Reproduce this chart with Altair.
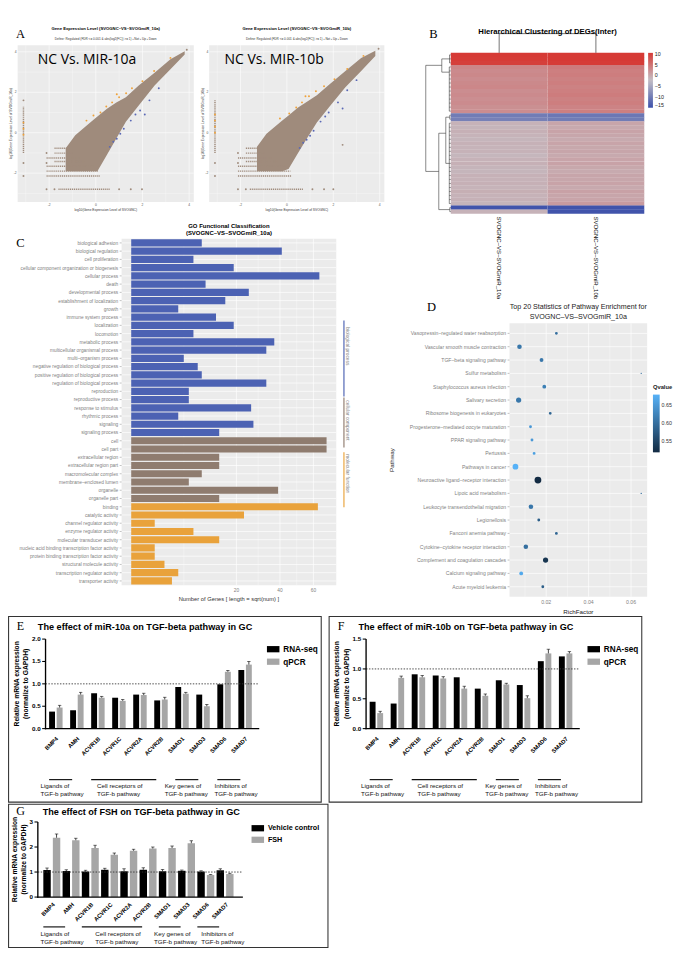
import altair as alt
import pandas as pd

SANS = "Liberation Sans"
SERIF = "Liberation Serif"
GG_BG = "#EBEBEB"
GG_TXT = "#7F7F7F"
ONE = pd.DataFrame({"k": [0]})

# ======================= DATA =======================
# ---- A: scatter panels ----
a1_title = "Gene Expression Level (SVOGNC\u2013VS\u2013SVOGmiR_10a)"
a2_title = "Gene Expression Level (SVOGNC\u2013VS\u2013SVOGmiR_10b)"
a_sub = "Define: Regulated (FDR <= 0.001 & abs(log2(FC)) >= 1)   \u25aa Not  \u25aa Up  \u25aa Down"
a_xlab = "log10(Gene Expression Level of SVOGNC)"
a1_ylab = "log10(Gene Expression Level of SVOGmiR_10a)"
a2_ylab = "log10(Gene Expression Level of SVOGmiR_10b)"
a1_big = "NC Vs. MIR-10a"
a2_big = "NC Vs. MIR-10b"
a_grid_major = [-2, 0, 2, 4]
a_grid_minor = [-3, -1, 1, 3]
a_tick_labels = ["-2", "0", "2", "4"]

a_band_x = [-1.29, -0.88, -0.20, 0.07, 0.48, 0.88, 1.29, 1.84, 2.52, 3.20, 3.81]
a1_band_lo = [-1.90, -1.90, -1.90, -1.90, -1.09, -0.28, 0.54, 1.35, 2.33, 3.14, 3.87]
a1_band_hi = [-0.77, -0.12, 0.54, 0.80, 1.19, 1.50, 1.75, 2.33, 2.97, 3.63, 4.03]
a2_band_lo = [-1.90, -1.90, -1.90, -1.80, -1.00, -0.25, 0.50, 1.30, 2.25, 3.05, 3.80]
a2_band_hi = [-0.70, -0.05, 0.60, 0.85, 1.25, 1.55, 1.85, 2.40, 3.05, 3.70, 4.05]

a1_seg_x0 = [-1.77, -1.77, -2.11, -1.77, -2.11, -2.11, -2.11, -1.60, -3.10]
a1_seg_x1 = [-1.25, -1.00, -0.70, -0.45, -0.10, 0.10, 0.20, 0.62, -3.10]
a1_seg_y0 = [-0.77, -1.01, -1.25, -1.42, -1.66, -1.90, -2.14, -2.80, -1.00]
a1_seg_y1 = [-0.77, -1.01, -1.25, -1.42, -1.66, -1.90, -2.14, -2.80, 1.30]
a2_seg_x0 = [-1.77, -1.77, -2.11, -1.77, -2.11, -2.11, -2.11, -1.60, -3.10]
a2_seg_x1 = [-1.20, -0.95, -0.65, -0.40, -0.05, 0.15, 0.20, 0.70, -3.10]
a2_seg_y0 = [-0.77, -1.01, -1.25, -1.42, -1.66, -1.90, -2.14, -2.80, -1.00]
a2_seg_y1 = [-0.77, -1.01, -1.25, -1.42, -1.66, -1.90, -2.14, -2.80, 1.60]

a1_not_x = [-2.11, -1.77, 1.00, 1.50, 1.98, -3.10, -3.10, -3.10, -2.11, -2.11, 3.90]
a1_not_y = [-2.80, -2.80, -2.80, -2.80, -2.80, 1.60, -1.50, -2.14, -1.00, -1.50, 4.10]
a1_up_x = [0.20, 0.45, 0.70, 1.00, 1.30, 1.55, 2.00, 2.50, -0.40, -0.10, 3.20, 0.90, -3.10, -3.10, -3.10]
a1_up_y = [1.00, 1.30, 1.50, 1.75, 1.95, 2.20, 2.55, 3.05, 0.60, 0.85, 3.70, 1.90, 0.20, 0.50, -0.10]
a1_dn_x = [0.60, 0.90, 1.20, 1.50, 1.90, 2.30, 2.70, 1.05, 1.70, 2.10, 0.75]
a1_dn_y = [-0.70, -0.30, 0.20, 0.60, 1.10, 1.60, 2.20, -0.05, 0.90, 0.90, -0.45]

a2_not_x = [-2.11, -1.77, 1.10, 1.60, 2.00, -3.10, -3.10, -2.11, -2.11, 2.40, 3.95]
a2_not_y = [-2.80, -2.80, -2.80, -2.80, -2.80, -1.50, -2.14, -1.00, -1.50, -0.60, 4.15]
a2_up_x = [0.10, 0.40, 0.65, 0.95, 1.25, 1.60, 2.05, 2.60, -0.30, 3.30, 0.80, -3.10, -3.10, -3.10, -3.10]
a2_up_y = [0.95, 1.25, 1.50, 1.80, 2.05, 2.30, 2.65, 3.15, 0.70, 3.80, 1.80, 0.30, 0.60, 0.90, 0.00]
a2_dn_x = [0.55, 0.85, 1.15, 1.45, 1.80, 2.20, 2.60, 1.00, 1.65, 2.40, 0.70, 3.00]
a2_dn_y = [-0.75, -0.35, 0.10, 0.55, 1.00, 1.50, 2.10, -0.15, 0.80, 1.20, -0.50, 2.60]

# ---- B: heatmap ----
b_title = "Hierarchical Clustering of DEGs(Inter)"
b_cols = ["SVOGNC\u2013VS\u2013SVOGmiR_10a", "SVOGNC\u2013VS\u2013SVOGmiR_10b"]
b_left = [10.5, 10.3, 10.0,
          3.2, 2.8, 3.0, 2.6, 2.9, 3.1, 2.5, 2.8, 2.4, 2.7, 2.3, 2.6,
          -10.0, -9.5,
          -1.0, -1.2, -0.8, -1.1, -1.3, -0.9, -1.1, -1.0, -1.4, -1.0,
          -0.8, -1.2, -1.3, -0.9, -1.0, -0.8, -1.1, -0.7, -1.0, -0.9, -1.2,
          -14.5, -1.0]
b_right = [10.5, 10.5, 10.3,
           4.3, 3.9, 4.1, 3.7, 4.0, 3.6, 3.9, 4.2, 3.7, 4.0, 3.5, 3.9,
           -10.5, -10.0,
           0.2, -0.1, 0.4, 0.1, -0.2, 0.3, 0.0, 0.2, -0.1, 0.3,
           0.5, 0.0, -0.2, 0.2, 0.1, 0.4, -0.1, 0.6, 0.2, 0.3, 1.2,
           -14.5, -14.5]
b_dend_h1 = [1.00, 1.00, 0.36, 0.36, 0.05, 0.36, 0.06, 1.00, 0.48, 0.48, 0.20, 0.20, 0.04, 0.20, 0.06, 0.48, 0.04]
b_dend_h2 = [1.00, 0.36, 0.36, 0.05, 0.05, 0.06, 0.06, 0.48, 0.48, 0.20, 0.20, 0.04, 0.04, 0.06, 0.06, 0.04, 0.04]
b_dend_r1 = [3.1, 3.1, 1.5, 1.5, 0.5, 4.8, 3.5, 29.5, 20.0, 20.0, 16.0, 16.0, 15.5, 27.5, 17.5, 39.0, 38.5]
b_dend_r2 = [29.5, 3.1, 4.8, 1.5, 2.5, 4.8, 14.5, 29.5, 39.0, 20.0, 27.5, 16.0, 16.5, 27.5, 37.5, 39.0, 39.5]
b_leaf_h = [0.05, 0.05, 0.05] + [0.06] * 12 + [0.04] * 2 + [0.06] * 21 + [0.04] * 2
b_cd_c1 = [0.5, 0.5, 1.5]
b_cd_c2 = [1.5, 0.5, 1.5]
b_cd_h1 = [1.0, 1.0, 1.0]
b_cd_h2 = [1.0, 0.0, 0.0]

# ---- C: GO classification ----
go_terms = ["biological adhesion", "biological regulation", "cell proliferation",
            "cellular component organization or biogenesis", "cellular process", "death",
            "developmental process", "establishment of localization", "growth",
            "immune system process", "localization", "locomotion", "metabolic process",
            "multicellular organismal process", "multi\u2013organism process",
            "negative regulation of biological process", "positive regulation of biological process",
            "regulation of biological process", "reproduction", "reproductive process",
            "response to stimulus", "rhythmic process", "signaling", "signaling process",
            "cell", "cell part", "extracellular region", "extracellular region part",
            "macromolecular complex", "membrane\u2013enclosed lumen", "organelle", "organelle part",
            "binding", "catalytic activity", "channel regulator activity", "enzyme regulator activity",
            "molecular transducer activity", "nucleic acid binding transcription factor activity",
            "protein binding transcription factor activity", "structural molecule activity",
            "transcription regulator activity", "transporter activity"]
go_counts = [9, 41, 7, 19, 64, 10, 25, 16, 4, 13, 19, 7, 37, 33, 5, 8, 9, 33, 6, 6, 26, 4, 27, 14,
             69, 69, 14, 14, 9, 6, 39, 14,
             63, 23, 1, 7, 14, 1, 1, 2, 4, 3]
go_class = ["biological process"] * 24 + ["cellular component"] * 8 + ["molecular function"] * 10
go_classes = ["biological process", "cellular component", "molecular function"]
go_grid_major = [20, 40, 60]
go_grid_minor = [5, 29.1, 49.5]

# ---- D: KEGG enrichment ----
d_paths = ["Vasopressin\u2013regulated water reabsorption", "Vascular smooth muscle contraction",
           "TGF\u2013beta signaling pathway", "Sulfur metabolism", "Staphylococcus aureus infection",
           "Salivary secretion", "Ribosome biogenesis in eukaryotes",
           "Progesterone\u2013mediated oocyte maturation", "PPAR signaling pathway", "Pertussis",
           "Pathways in cancer", "Neuroactive ligand\u2013receptor interaction", "Lipoic acid metabolism",
           "Leukocyte transendothelial migration", "Legionellosis", "Fanconi anemia pathway",
           "Cytokine\u2013cytokine receptor interaction", "Complement and coagulation cascades",
           "Calcium signaling pathway", "Acute myeloid leukemia"]
d_rich = [0.0248, 0.0074, 0.0178, 0.0648, 0.0191, 0.0070, 0.0219, 0.0126, 0.0133, 0.0143,
          0.0055, 0.0161, 0.0648, 0.0128, 0.0165, 0.0248, 0.0104, 0.0197, 0.0082, 0.0184]
d_q = [0.60, 0.61, 0.61, 0.60, 0.62, 0.61, 0.59, 0.65, 0.65, 0.66,
       0.68, 0.517, 0.60, 0.61, 0.58, 0.59, 0.60, 0.53, 0.67, 0.58]
d_n = [2, 4, 3, 1, 3, 5, 2, 2, 2, 2, 6, 8, 1, 4, 2, 2, 4, 5, 3, 2]
d_grid_major = [0.02, 0.04, 0.06]
d_grid_minor = [0.01, 0.03, 0.05]

# ---- E/F/G: bar charts ----
GENES = ["BMP4", "AMH", "ACVR1B", "ACVR1C", "ACVR2A", "ACVR2B", "SMAD1", "SMAD3", "SMAD6", "SMAD7"]
GRP_START = ["BMP4", "ACVR1B", "SMAD1", "SMAD6"]
GRP_END = ["AMH", "ACVR2B", "SMAD3", "SMAD7"]
GRP_TEXT = [["Ligands of", "TGF-b pathway"], ["Cell receptors of", "TGF-b pathway"],
            ["Key genes of", "TGF-b pathway"], ["Inhibitors of", "TGF-b pathway"]]
YTITLE = ["Relative mRNA expression", "(normalize to GAPDH)"]

e_rna = [0.38, 0.41, 0.79, 0.69, 0.76, 0.63, 0.93, 0.76, 0.99, 1.31]
e_rna_err = [0, 0, 0, 0, 0, 0, 0, 0, 0, 0]
e_qpcr = [0.47, 0.76, 0.69, 0.62, 0.75, 0.65, 0.78, 0.50, 1.27, 1.43]
e_qpcr_err = [0.05, 0.05, 0.03, 0.03, 0.04, 0.05, 0.03, 0.04, 0.03, 0.07]

f_rna = [0.45, 0.42, 0.91, 0.89, 0.86, 0.67, 0.81, 0.73, 1.13, 1.21]
f_rna_err = [0, 0, 0, 0, 0, 0, 0, 0, 0, 0]
f_qpcr = [0.26, 0.85, 0.86, 0.84, 0.67, 0.55, 0.74, 0.51, 1.26, 1.26]
f_qpcr_err = [0.03, 0.03, 0.03, 0.03, 0.04, 0.03, 0.02, 0.04, 0.07, 0.03]

g_veh = [1.08, 1.04, 1.02, 1.09, 1.03, 1.09, 1.03, 1.05, 1.02, 1.07]
g_veh_err = [0.08, 0.05, 0.05, 0.06, 0.10, 0.08, 0.07, 0.03, 0.03, 0.06]
g_fsh = [2.37, 2.27, 1.96, 1.69, 1.85, 1.94, 1.96, 2.15, 0.88, 0.92]
g_fsh_err = [0.15, 0.08, 0.11, 0.07, 0.06, 0.06, 0.08, 0.10, 0.02, 0.03]


# ======================= HELPERS =======================
def txt(s, x, y, size, weight="normal", font=SANS, color="#000000", align="center", angle=0,
        baseline="alphabetic"):
    return alt.Chart(ONE).mark_text(text=s, font=font, fontSize=size, fontWeight=weight, color=color,
                                     align=align, angle=angle, baseline=baseline).encode(
        x=alt.value(x), y=alt.value(y))


def prect(x0, y0, x1, y1, fill):
    return alt.Chart(ONE).mark_rect(fill=fill, strokeWidth=0).encode(
        x=alt.value(x0), x2=alt.value(x1), y=alt.value(y0), y2=alt.value(y1))


def vgrid(vals, scale, y0, y1, width, color="white"):
    return alt.Chart(pd.DataFrame({"g": vals})).mark_rule(color=color, strokeWidth=width).encode(
        x=alt.X("g:Q", scale=scale, axis=None), y=alt.value(y0), y2=alt.value(y1))


def hgrid(vals, scale, x0, x1, width, typ="Q", band=None, color="white"):
    if band is None:
        yy = alt.Y("g:" + typ, scale=scale, axis=None)
    else:
        yy = alt.Y("g:" + typ, scale=scale, axis=None, bandPosition=band)
    return alt.Chart(pd.DataFrame({"g": vals})).mark_rule(color=color, strokeWidth=width).encode(
        y=yy, x=alt.value(x0), x2=alt.value(x1))


def xlabels(vals, labels, scale, y, size, color, weight="normal"):
    return alt.Chart(pd.DataFrame({"g": vals, "t": labels})).mark_text(
        fontSize=size, color=color, fontWeight=weight, baseline="top").encode(
        x=alt.X("g:Q", scale=scale, axis=None), y=alt.value(y), text="t:N")


def ylabels(vals, labels, scale, x, size, color, typ="Q", band=None, weight="normal"):
    if band is None:
        yy = alt.Y("g:" + typ, scale=scale, axis=None)
    else:
        yy = alt.Y("g:" + typ, scale=scale, axis=None, bandPosition=band)
    return alt.Chart(pd.DataFrame({"g": vals, "t": labels})).mark_text(
        fontSize=size, color=color, fontWeight=weight, align="right", baseline="middle").encode(
        y=yy, x=alt.value(x), text="t:N")


def stack(charts, columns, spacing):
    ch = alt.concat(*charts, columns=columns, spacing=spacing)
    return ch.resolve_scale(color="independent", size="independent", xOffset="independent").resolve_legend(
        color="independent", size="independent")


# ======================= PANEL A =======================
A_XDOM = [-3.35, 4.2]
A_YDOM = [-3.43, 4.33]
A_BROWN = "#9F8B7C"
A_ORANGE = "#EFA23A"
A_BLUE = "#5A68B6"


def scatter_panel(W, H, px0, px1, py0, py1, lo, hi, sx0, sx1, sy0, sy1, nx, ny, ux, uy, dnx, dny,
                  title, ylab, big, big_dx, letter):
    xs = alt.Scale(domain=A_XDOM, range=[px0, px1], nice=False, zero=False)
    ys = alt.Scale(domain=A_YDOM, range=[py1, py0], nice=False, zero=False)
    band_df = pd.DataFrame({"x": a_band_x, "lo": lo, "hi": hi})
    seg_df = pd.DataFrame({"x0": sx0, "x1": sx1, "y0": sy0, "y1": sy1})
    pts_df = pd.concat([pd.DataFrame({"x": nx, "y": ny, "k": "Not"}),
                        pd.DataFrame({"x": ux, "y": uy, "k": "Up"}),
                        pd.DataFrame({"x": dnx, "y": dny, "k": "Down"})], ignore_index=True)
    area = alt.Chart(band_df).mark_area(color=A_BROWN).encode(
        x=alt.X("x:Q", scale=xs, axis=None), y=alt.Y("lo:Q", scale=ys, axis=None), y2="hi:Q")
    segs = alt.Chart(seg_df).mark_rule(color=A_BROWN, strokeWidth=1.5, strokeDash=[1.2, 0.8]).encode(
        x=alt.X("x0:Q", scale=xs, axis=None), x2="x1:Q",
        y=alt.Y("y0:Q", scale=ys, axis=None), y2="y1:Q")
    pts = alt.Chart(pts_df).mark_circle(size=4, opacity=1).encode(
        x=alt.X("x:Q", scale=xs, axis=None), y=alt.Y("y:Q", scale=ys, axis=None),
        color=alt.Color("k:N", scale=alt.Scale(domain=["Not", "Up", "Down"],
                                               range=[A_BROWN, A_ORANGE, A_BLUE]), legend=None))
    layers = [prect(px0, py0, px1, py1, GG_BG),
              vgrid(a_grid_minor, xs, py0, py1, 0.3), vgrid(a_grid_major, xs, py0, py1, 0.6),
              hgrid(a_grid_minor, ys, px0, px1, 0.3), hgrid(a_grid_major, ys, px0, px1, 0.6),
              area, segs, pts,
              xlabels(a_grid_major, a_tick_labels, xs, py1 + 1.2, 3.4, "#555555"),
              ylabels(a_grid_major, a_tick_labels, ys, px0 - 1, 3.4, "#555555"),
              txt(a_xlab, (px0 + px1) / 2, py1 + 9.5, 3.4, color="#333333"),
              txt(ylab, px0 - 6.5, (py0 + py1) / 2, 3.4, color="#333333", angle=270, baseline="middle"),
              txt(big, px0 + big_dx, py0 + 20, 14.5, font="Open Sans", align="left"),
              txt(title, (px0 + px1) / 2, py0 - 15.5, 4.4, weight="bold"),
              txt(a_sub, (px0 + px1) / 2, py0 - 5.8, 3.2, color="#333333")]
    if letter:
        layers.append(txt(letter, px0 + 3, py0 - 7, 13, font=SERIF))
    return alt.layer(*layers).properties(width=W, height=H)


a1 = scatter_panel(200, 197, 10, 193, 19, 182, a1_band_lo, a1_band_hi,
                   a1_seg_x0, a1_seg_x1, a1_seg_y0, a1_seg_y1,
                   a1_not_x, a1_not_y, a1_up_x, a1_up_y, a1_dn_x, a1_dn_y,
                   a1_title, a1_ylab, a1_big, 21, "A")
a2 = scatter_panel(191, 197, 9, 191, 19, 182, a2_band_lo, a2_band_hi,
                   a2_seg_x0, a2_seg_x1, a2_seg_y0, a2_seg_y1,
                   a2_not_x, a2_not_y, a2_up_x, a2_up_y, a2_dn_x, a2_dn_y,
                   a2_title, a2_ylab, a2_big, 16, "")


# ======================= PANEL B =======================
def heat_panel():
    W, H = 303, 273
    px0, px1, py0, py1 = 68, 269, 27, 194
    n = len(b_left)
    rows = []
    for i, (l, r) in enumerate(zip(b_left, b_right)):
        rows.append({"c": 0, "r": i, "v": l})
        rows.append({"c": 1, "r": i, "v": r})
    hdf = pd.DataFrame(rows)
    cx = alt.Scale(domain=[0, 2], range=[px0, px1], nice=False, zero=False)
    ry = alt.Scale(domain=[0, n], range=[py0, py1], nice=False, zero=False)
    cscale = alt.Scale(domain=[-15, -2.25, 10.5], range=["#3C50AA", "#C4BFC6", "#D63A35"],
                       interpolate="rgb")
    # cells overlap by a hair so that no white seams show between rows
    heat = alt.Chart(hdf).transform_calculate(c2="datum.c + 1", r2="datum.r + 1.06").mark_rect(
        strokeWidth=0).encode(
        x=alt.X("c:Q", scale=cx, axis=None), x2="c2:Q",
        y=alt.Y("r:Q", scale=ry, axis=None), y2="r2:Q",
        color=alt.Color("v:Q", scale=cscale,
                        legend=alt.Legend(orient="none", legendX=px1 + 4, legendY=py0, title=None,
                                          type="gradient", direction="vertical", gradientLength=57,
                                          gradientThickness=5, gradientStrokeWidth=0,
                                          values=[10, 5, 0, -5, -10, -15],
                                          labelFontSize=5.5, labelColor="#222222", labelOffset=2)))
    h1 = list(b_dend_h1)
    h2 = list(b_dend_h2)
    r1 = list(b_dend_r1)
    r2 = list(b_dend_r2)
    for i, lh in enumerate(b_leaf_h):
        h1.append(lh)
        h2.append(0.0)
        r1.append(i + 0.5)
        r2.append(i + 0.5)
    ddf = pd.DataFrame({"h1": h1, "h2": h2, "r1": r1, "r2": r2})
    rd = alt.Chart(ddf).mark_rule(color="#333333", strokeWidth=0.6).encode(
        x=alt.X("h1:Q", scale=alt.Scale(domain=[0, 1], range=[px0, px0 - 26], nice=False, zero=False),
                axis=None),
        x2="h2:Q",
        y=alt.Y("r1:Q", scale=ry, axis=None), y2="r2:Q")
    cdf = pd.DataFrame({"c1": b_cd_c1, "c2": b_cd_c2, "h1": b_cd_h1, "h2": b_cd_h2})
    cd = alt.Chart(cdf).mark_rule(color="#333333", strokeWidth=0.7).encode(
        x=alt.X("c1:Q", scale=cx, axis=None), x2="c2:Q",
        y=alt.Y("h1:Q", scale=alt.Scale(domain=[0, 1], range=[py0, py0 - 20], nice=False, zero=False),
                axis=None),
        y2="h2:Q")
    ldf = pd.DataFrame({"cx": [0.5, 1.5], "lab": b_cols})
    lab = alt.Chart(ldf).mark_text(angle=90, align="left", baseline="middle", fontSize=6.3,
                                   color="#111111").encode(
        x=alt.X("cx:Q", scale=cx, axis=None), y=alt.value(py1 + 3), text="lab:N")
    return alt.layer(heat, rd, cd, lab,
                     txt(b_title, (px0 + px1) / 2, 7, 8, weight="bold"),
                     txt("B", px0 - 18, 11.5, 13, font=SERIF)).resolve_scale(
        x="independent", y="independent").properties(width=W, height=H)


b = heat_panel()


# ======================= PANEL C =======================
def go_panel():
    W, H = 389, 403
    px0, px1, py0, py1 = 118, 341, 23, 383
    df = pd.DataFrame({"term": go_terms, "n": go_counts, "cls": go_class})
    xs = alt.Scale(type="sqrt", domain=[0, 76], range=[px0 + 10, px1], nice=False)
    ys = alt.Scale(domain=go_terms, range=[py0, py1], paddingInner=0.13, paddingOuter=0.08)
    bars = alt.Chart(df).mark_bar().encode(
        y=alt.Y("term:N", scale=ys, axis=None),
        x=alt.X("n:Q", scale=xs, axis=None),
        color=alt.Color("cls:N", scale=alt.Scale(domain=go_classes,
                                                 range=["#4C62B3", "#8F7C6F", "#E9A23B"]), legend=None))
    deco = []
    for col, y0, y1, lab, ty in [("#4C62B3", 85, 164, "biological process", 92),
                                 ("#8F7C6F", 165, 217, "cellular component", 168),
                                 ("#E9A23B", 222, 279, "molecular function", 224)]:
        deco.append(alt.Chart(ONE).mark_rule(color=col, strokeWidth=1.2).encode(
            x=alt.value(px1 + 8), y=alt.value(py0 + y0), y2=alt.value(py0 + y1)))
        deco.append(txt(lab, px1 + 12, py0 + ty, 5, color=GG_TXT, align="left", angle=90,
                        baseline="middle"))
    ticks = alt.Chart(pd.DataFrame({"g": go_terms})).mark_rule(color=GG_TXT, strokeWidth=0.5).encode(
        y=alt.Y("g:N", scale=ys, axis=None, bandPosition=0.5), x=alt.value(px0 - 2), x2=alt.value(px0))
    return alt.layer(prect(px0, py0, px1, py1, GG_BG),
                     vgrid(go_grid_minor, xs, py0, py1, 0.35), vgrid(go_grid_major, xs, py0, py1, 0.7),
                     hgrid(go_terms, ys, px0, px1, 0.7, typ="N", band=0.5),
                     bars, ticks, *deco,
                     ylabels(go_terms, go_terms, ys, px0 - 3.5, 5.0, GG_TXT, typ="N", band=0.5),
                     xlabels(go_grid_major, ["20", "40", "60"], xs, py1 + 3, 5, GG_TXT),
                     txt("Number of Genes [ length = sqrt(num) ]", (px0 + px1) / 2, py1 + 16, 6,
                         color="#333333"),
                     txt("GO Functional Classification", (px0 + px1) / 2, py0 - 11, 6.2, weight="bold"),
                     txt("(SVOGNC\u2013VS\u2013SVOGmiR_10a)", (px0 + px1) / 2, py0 - 4, 6.2, weight="bold"),
                     txt("C", px0 - 105, py0 + 8.5, 13, font=SERIF)).properties(width=W, height=H)


c = go_panel()


# ======================= PANEL D =======================
def kegg_panel():
    W, H = 303, 327
    px0, px1, py0, py1 = 129, 272, 24, 308
    df = pd.DataFrame({"path": d_paths, "rf": d_rich, "q": d_q, "n": d_n})
    xs = alt.Scale(domain=[0.0027, 0.0676], range=[px0, px1], nice=False, zero=False)
    ys = alt.Scale(domain=d_paths, range=[py0, py1], padding=0.5)
    pts = alt.Chart(df).mark_circle(opacity=1).encode(
        y=alt.Y("path:N", scale=ys, axis=None),
        x=alt.X("rf:Q", scale=xs, axis=None),
        size=alt.Size("n:Q", scale=alt.Scale(domain=[1, 8], range=[2, 50]), legend=None),
        color=alt.Color("q:Q", scale=alt.Scale(domain=[0.517, 0.68], range=["#132B43", "#56B1F7"],
                                               interpolate="rgb"),
                        legend=alt.Legend(orient="none", legendX=px1 + 6, legendY=py0 + 63, title="Qvalue",
                                          titleFontSize=6, titleFontWeight="bold", titleColor="#222222",
                                          direction="vertical", gradientLength=60, gradientThickness=7,
                                          gradientStrokeWidth=0, values=[0.55, 0.6, 0.65], format=".2f",
                                          labelFontSize=5.5, labelColor="#333333", labelOffset=2)))
    ticks = alt.Chart(pd.DataFrame({"g": d_paths})).mark_rule(color=GG_TXT, strokeWidth=0.5).encode(
        y=alt.Y("g:N", scale=ys, axis=None), x=alt.value(px0 - 2), x2=alt.value(px0))
    return alt.layer(prect(px0, py0, px1, py1, GG_BG),
                     vgrid(d_grid_minor, xs, py0, py1, 0.35), vgrid(d_grid_major, xs, py0, py1, 0.7),
                     hgrid(d_paths, ys, px0, px1, 0.7, typ="N"),
                     pts, ticks,
                     ylabels(d_paths, d_paths, ys, px0 - 3.5, 5.3, GG_TXT, typ="N"),
                     xlabels(d_grid_major, ["0.02", "0.04", "0.06"], xs, py1 + 3.5, 5.4, GG_TXT),
                     txt("RichFactor", (px0 + px1) / 2, py1 + 17.5, 6.5, color="#222222"),
                     txt("Pathway", 7, (py0 + py1) / 2, 6.5, color="#222222", angle=270, baseline="middle"),
                     txt("Top 20 Statistics of Pathway Enrichment for", (px0 + px1) / 2, py0 - 14.5, 7.4,
                         color="#222222"),
                     txt("SVOGNC\u2013VS\u2013SVOGmiR_10a", (px0 + px1) / 2, py0 - 4.5, 7.4, color="#222222"),
                     txt("D", px0 - 81, py0 - 12.5, 13, font=SERIF)).properties(width=W, height=H)


d = kegg_panel()


# ======================= PANELS E / F / G =======================
def bar_panel(letter, title, names, vals, errs, ymax, yticks, ylabs, W, H, px0, px1, py0, py1, pi, po,
              leg, legfont, glab_y, glab_dx, line_y, text_y, text_dx, ytitle_dx, title_xy, letter_xy):
    rows = []
    for nm, vv, ee in zip(names, vals, errs):
        for g, v, e in zip(GENES, vv, ee):
            rows.append({"gene": g, "series": nm, "value": v, "err": e})
    df = pd.DataFrame(rows)
    edf = df[df["err"] > 0]
    xsc = alt.Scale(domain=GENES, range=[px0, px1], paddingInner=pi, paddingOuter=po)
    osc = alt.Scale(domain=names, paddingInner=0.22)
    ysc = alt.Scale(domain=[0, ymax], range=[py1, py0], nice=False)
    bars = alt.Chart(df).mark_bar().encode(
        x=alt.X("gene:N", scale=xsc, axis=None),
        xOffset=alt.XOffset("series:N", scale=osc),
        y=alt.Y("value:Q", scale=ysc, axis=None),
        color=alt.Color("series:N", scale=alt.Scale(domain=names, range=["#000000", "#A6A6A6"]),
                        legend=alt.Legend(orient="none", legendX=leg[0], legendY=leg[1], title=None,
                                          symbolType="M-1,-0.5H1V0.5H-1Z", symbolSize=169,
                                          symbolStrokeWidth=0, labelFontSize=legfont,
                                          labelFontWeight="bold", labelColor="#000000", rowPadding=2,
                                          labelOffset=4, padding=0)))
    ebar = alt.Chart(edf).transform_calculate(hi="datum.value + datum.err").mark_rule(
        color="#111111", strokeWidth=0.8).encode(
        x=alt.X("gene:N", scale=xsc, axis=None), xOffset=alt.XOffset("series:N", scale=osc),
        y=alt.Y("value:Q", scale=ysc, axis=None), y2="hi:Q")
    caps = alt.Chart(edf).transform_calculate(hi="datum.value + datum.err").mark_tick(
        color="#111111", thickness=0.9, size=3.5).encode(
        x=alt.X("gene:N", scale=xsc, axis=None), xOffset=alt.XOffset("series:N", scale=osc),
        y=alt.Y("hi:Q", scale=ysc, axis=None))
    ref = alt.Chart(pd.DataFrame({"one": [1.0]})).mark_rule(
        color="#333333", strokeWidth=0.9, strokeDash=[1.5, 1.5]).encode(
        y=alt.Y("one:Q", scale=ysc, axis=None), x=alt.value(px0), x2=alt.value(px1 + 4))
    ydom = prect(px0 - 0.7, py0, px0 + 0.7, py1 + 0.7, "#000000")
    xdom = prect(px0 - 0.7, py1 - 0.6, px1 + 4, py1 + 0.7, "#000000")
    yt = alt.Chart(pd.DataFrame({"g": yticks})).mark_rule(color="#000000", strokeWidth=1.1).encode(
        y=alt.Y("g:Q", scale=ysc, axis=None), x=alt.value(px0 - 3.5), x2=alt.value(px0))
    yl = ylabels(yticks, ylabs, ysc, px0 - 5, 6.5, "#000000", weight="bold")
    gl = alt.Chart(pd.DataFrame({"g": GENES})).mark_text(
        angle=315, align="right", baseline="middle", fontSize=6, fontWeight="bold", color="#000000",
        dx=glab_dx).encode(
        x=alt.X("g:N", scale=xsc, axis=None, bandPosition=0.5), y=alt.value(py1 + glab_y), text="g:N")
    layers = [bars, ebar, caps, ref, ydom, xdom, yt, yl, gl,
              txt(YTITLE[0], px0 + ytitle_dx[0], (py0 + py1) / 2, 7, weight="bold", angle=270,
                  baseline="middle"),
              txt(YTITLE[1], px0 + ytitle_dx[1], (py0 + py1) / 2, 7, weight="bold", angle=270,
                  baseline="middle")]
    for s, e, t, dx in zip(GRP_START, GRP_END, GRP_TEXT, text_dx):
        gdf = pd.DataFrame({"s": [s], "e": [e]})
        layers.append(alt.Chart(gdf).mark_rule(color="#111111", strokeWidth=1.2).encode(
            x=alt.X("s:N", scale=xsc, axis=None, bandPosition=0),
            x2=alt.X2("e:N", bandPosition=0.15),
            y=alt.value(py1 + line_y)))
        layers.append(alt.Chart(gdf).mark_text(text=t, align="left", baseline="top", fontSize=6.5,
                                               lineHeight=8.5, dx=dx, color="#111111").encode(
            x=alt.X("s:N", scale=xsc, axis=None, bandPosition=0), y=alt.value(py1 + text_y)))
    layers.append(alt.Chart(ONE).mark_rect(fill="#ffffff", fillOpacity=0, stroke="#333333",
                                           strokeWidth=1.1).encode(
        x=alt.value(0.6), x2=alt.value(W - 0.6), y=alt.value(0.6), y2=alt.value(H - 0.6)))
    layers.append(txt(title, title_xy[0], title_xy[1], 9.5, weight="bold", align="left"))
    layers.append(txt(letter, letter_xy[0], letter_xy[1], 12.5, font=SERIF))
    return alt.layer(*layers).properties(width=W, height=H)


e = bar_panel("E", "The effect of miR-10a on TGF-beta pathway in GC", ["RNA-seq", "qPCR"],
              [e_rna, e_qpcr], [e_rna_err, e_qpcr_err], 2.0, [0, 0.5, 1.0, 1.5, 2.0],
              ["0.0", "0.5", "1.0", "1.5", "2.0"],
              326, 194, 39, 257, 24, 117, 0.36, 0.17, (269, 28), 8.5,
              11, 2, 53, 57, [-9, 6, -11, -3], (-30, -20), (31, 15), (13, 15))
f = bar_panel("F", "The effect of miR-10b on TGF-beta pathway in GC", ["RNA-seq", "qPCR"],
              [f_rna, f_qpcr], [f_rna_err, f_qpcr_err], 1.5, [0, 0.5, 1.0, 1.5],
              ["0.0", "0.5", "1.0", "1.5"],
              326, 194, 39, 257, 24, 117, 0.36, 0.17, (269, 28), 8.5,
              11, 2, 53, 57, [-9, 6, -11, -3], (-30, -20), (31, 15), (13, 15))
g = bar_panel("G", "The effect of FSH on TGF-beta pathway in GC", ["Vehicle control", "FSH"],
              [g_veh, g_fsh], [g_veh_err, g_fsh_err], 3.0, [0, 1, 2, 3], ["0", "1", "2", "3"],
              333, 150, 31, 240, 19, 97, 0.12, 0.285, (253, 19), 7.5,
              9, 3, 31, 35, [-3, 14, -5, 4], (-24, -14), (36, 12), (13, 12))

# ======================= LAYOUT =======================
# every view's plot area covers its whole cell, so the cells simply tile
arow = stack([a1, a2], 2, 0)
leftcol = stack([arow, c], 1, 0)
rightcol = stack([b, d], 1, 0)
top = stack([leftcol, rightcol], 2, -25)
ef = stack([e, f], 2, 7)

chart = stack([top, ef, g], 1, 1).properties(padding=0, background="white").configure(
    font=SANS).configure_view(strokeWidth=0)

chart.save("out.html", embed_options={"renderer": "svg", "actions": False})
